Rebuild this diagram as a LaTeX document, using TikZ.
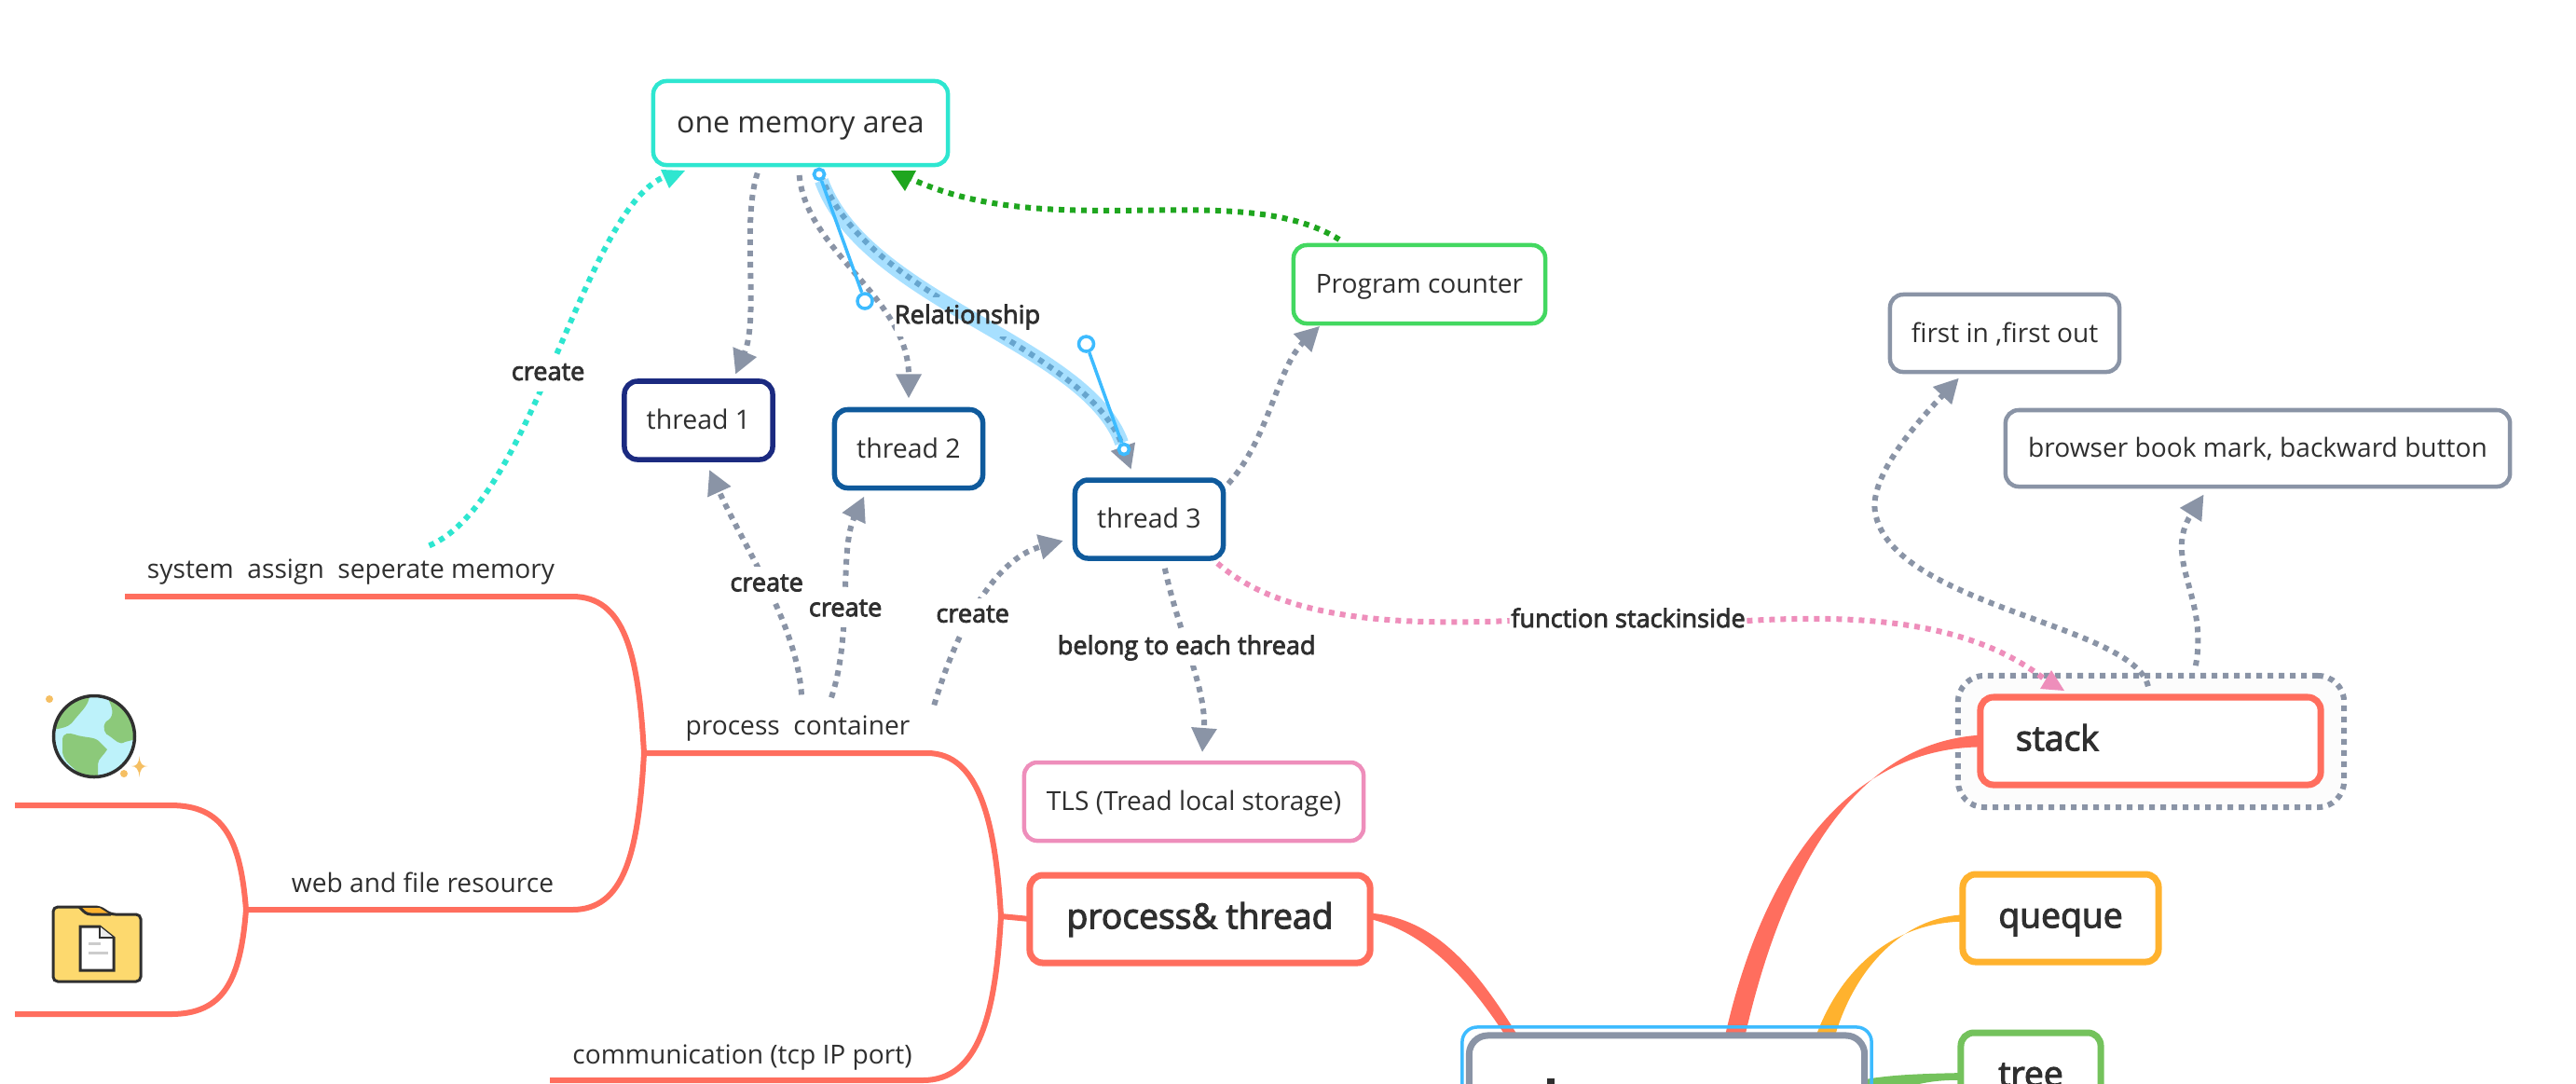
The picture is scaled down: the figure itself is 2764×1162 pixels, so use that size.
\documentclass[tikz,border=0pt]{standalone}
\usepackage{fontspec}
\setmainfont{Open Sans}[BoldFont={Open Sans},BoldFeatures={FakeBold=3}]
\usetikzlibrary{arrows.meta,calc}
\definecolor{ink}{HTML}{2F2F2F}
\definecolor{coral}{HTML}{FF6E5E}
\definecolor{teal}{HTML}{2EE6D0}
\definecolor{navy}{HTML}{1B2A80}
\definecolor{sea}{HTML}{0F5A9C}
\definecolor{lime}{HTML}{43D860}
\definecolor{slate}{HTML}{8A94A6}
\definecolor{pinky}{HTML}{EE8EBB}
\definecolor{amber}{HTML}{FFB22E}
\definecolor{leaf}{HTML}{74C25C}
\definecolor{grass}{HTML}{1FA61F}
\definecolor{sky}{HTML}{3DBBFF}
\definecolor{land}{HTML}{8CC97A}
\definecolor{water}{HTML}{BDF2FA}
\definecolor{spark}{HTML}{F5BF63}
\definecolor{folder}{HTML}{FDD96E}
\tikzset{
  box/.style={draw,fill=white,rounded corners=.14cm,inner sep=0,outer sep=0,line width=.045cm,text=ink,text height=5.4pt,text depth=0pt,font=\fontsize{8}{10}\selectfont},
  threadbox/.style={box,line width=.055cm,minimum width=1.59cm,minimum height=.84cm,font=\fontsize{8.1}{10}\selectfont},
  bigbox/.style={box,line width=.07cm,minimum height=.94cm,text height=5.8pt,font=\fontsize{10.6}{12}\selectfont\bfseries},
  leaftext/.style={inner sep=0,outer sep=0,text=ink,anchor=base,font=\fontsize{8}{10}\selectfont},
  linklabel/.style={fill=white,inner xsep=.01cm,inner ysep=0,minimum height=.38cm,text=ink,text height=5.5pt,text depth=1.5pt,font=\fontsize{7.7}{9}\selectfont\bfseries},
  link/.style={line width=.06cm,dash pattern=on .06cm off .06cm,slate},
  arrowlink/.style={link,-{Triangle[length=.26cm,width=.26cm]}},
  branch/.style={line width=.06cm,coral},
  knob/.style={circle,draw=sky,fill=white,line width=.035cm,inner sep=0,minimum size=.16cm},
  smallknob/.style={knob,minimum size=.11cm},
}
\begin{document}
\begin{tikzpicture}[x=.01cm,y=-.01cm]
  \useasboundingbox (0,0) rectangle (2764,1162);
  \clip (0,0) rectangle (2764,1162);

  \coordinate (processfork) at (1074,983);
  \coordinate (containerfork) at (691,808);
  \coordinate (webfork) at (264,976);
  \coordinate (commend) at (590,1159);
  \coordinate (systemend) at (134,640);
  \coordinate (globeend) at (16,864);
  \coordinate (folderend) at (16,1088);

  \node[box,draw=slate,fill=white!99!black,line width=.06cm,dash pattern=on .06cm off .06cm,rounded corners=.28cm,minimum width=4.14cm,minimum height=1.41cm] (stackring) at (2308,795.5) {};

  \node[box,draw=teal,minimum width=3.16cm,minimum height=.9cm,text height=5.9pt,font=\fontsize{9.1}{11}\selectfont] (memory) at (859,132) {one memory area};
  \node[threadbox,draw=navy] (threadone) at (749.5,451) {thread 1};
  \node[threadbox,draw=sea] (threadtwo) at (975,481.5) {thread 2};
  \node[threadbox,draw=sea] (threadthree) at (1233,557) {thread 3};
  \node[box,draw=lime,minimum width=2.7cm,minimum height=.84cm] (program) at (1523,305) {Program counter};
  \node[box,draw=slate,minimum width=2.46cm,minimum height=.83cm] (firstin) at (2151,357.5) {first in ,first out};
  \node[box,draw=slate,minimum width=5.41cm,minimum height=.82cm] (browser) at (2422.5,481) {browser book mark, backward button};
  \node[box,draw=pinky,minimum width=3.64cm,minimum height=.84cm] (tls) at (1281,860) {TLS (Tread local storage)};
  \node[bigbox,draw=coral,minimum width=3.65cm] (process) at (1287.5,986) {process\& thread};
  \node[bigbox,draw=coral,text width=2.89cm,align=left,inner xsep=.38cm] (stack) at (2307.5,795) {stack};
  \node[bigbox,draw=amber,minimum width=2.1cm] (queque) at (2211,985) {queque};
  \node[bigbox,draw=leaf,minimum width=1.5cm] (tree) at (2179,1155) {tree};

  \node[leaftext] (system) at (376.5,620) {system\ \ assign\ \ seperate memory};
  \node[leaftext] (container) at (856,788) {process\ \ container};
  \node[leaftext] (web) at (453.5,957) {web and file resource};
  \node[leaftext] (comm) at (796.5,1141) {communication (tcp IP port)};

  \node[inner sep=0,minimum width=4.24cm,minimum height=2cm,outer sep=0] (mainbox) at (1788.5,1211) {};

  \draw[branch] (process.west) -- (processfork);
  \draw[branch] (processfork) .. controls (1068,880) and (1050,808) .. (995,808) -- (containerfork);
  \draw[branch] (processfork) .. controls (1068,1090) and (1050,1159) .. (990,1159) -- (commend);
  \draw[branch] (containerfork) .. controls (685,700) and (670,640) .. (614,640) -- (systemend);
  \draw[branch] (containerfork) .. controls (685,915) and (670,976) .. (614,976) -- (webfork);
  \draw[branch] (webfork) .. controls (258,900) and (240,864) .. (183,864) -- (globeend);
  \draw[branch] (webfork) .. controls (258,1052) and (240,1088) .. (183,1088) -- (folderend);

  \fill[coral] (process.2) .. controls (1540,985) and (1585,1040) .. (mainbox.148.6) -- (mainbox.150.7) .. controls (1575,1050) and (1530,1000) .. (process.0) -- cycle;
  \fill[coral] (stack.178.5) .. controls (1990,797) and (1913,933) .. (mainbox.50.8) -- (mainbox.58.4) .. controls (1893,925) and (1986,803) .. (stack.-178.5) -- cycle;
  \fill[amber] (queque.178.4) .. controls (2040,985) and (1990,1040) .. (mainbox.29.7) -- (mainbox.32.2) .. controls (1975,1040) and (2030,990) .. (queque.-178.4) -- cycle;
  \fill[leaf] (tree.177.7) .. controls (2060,1152) and (2030,1153) .. (mainbox.14.3) -- (mainbox.7) .. controls (2040,1165) and (2070,1158) .. (tree.-177.7) -- cycle;

  \node[box,draw=sky,fill=none,line width=.035cm,rounded corners=.16cm,minimum width=4.39cm,minimum height=2.18cm] (selection) at (mainbox) {};
  \node[box,draw=slate,line width=.07cm,rounded corners=.2cm,minimum width=4.24cm,minimum height=2cm] (maintopic) at (mainbox) {};
  \fill[ink] (1660,1157) rectangle (1667.5,1164);

  \draw[arrowlink,shorten <=.09cm,shorten >=.08cm] (memory.-134) .. controls (795,240) and (815,340) .. (threadone.49);
  \draw[arrowlink,shorten <=.11cm,shorten >=.12cm] (memory.-93) .. controls (865,270) and (975,320) .. (threadtwo.north);
  \draw[arrowlink,shorten <=.11cm,shorten >=.12cm] (memory.-68) .. controls (928,323) and (1165.5,369) .. (threadthree.110);
  \draw[arrowlink,shorten <=.08cm,shorten >=.04cm] (threadthree.22) .. controls (1362,470) and (1370,395) .. (program.-158.6);
  \draw[arrowlink,shorten <=.11cm,shorten >=.11cm] (threadthree.-71.6) .. controls (1265,680) and (1295,740) .. node[linklabel,pos=.43] (belong) {belong to each thread} (tls.79);
  \draw[arrowlink,shorten >=.12cm] ($(container.north)+(4,-22)$) .. controls (855,670) and (800,590) .. node[linklabel,pos=.5] (createone) {create} (threadone.-81);
  \draw[arrowlink,shorten >=.1cm] ($(container.north)+(36,-19)$) .. controls (915,680) and (900,590) .. node[linklabel,pos=.42] (createtwo) {create} (threadtwo.-136);
  \draw[arrowlink,shorten >=.13cm] ($(container.north east)+(26,-11)$) .. controls (1025,680) and (1065,600) .. node[linklabel,pos=.43] (createthree) {create} (threadthree.-166);
  \draw[arrowlink,shorten <=.12cm,shorten >=.09cm] (stack.90) .. controls (2290,670) and (2030,650) .. (2012,550) .. controls (2005,510) and (2060,450) .. (firstin.-136.7);
  \draw[arrowlink,shorten <=.11cm,shorten >=.1cm] (stackring.57.4) .. controls (2370,640) and (2320,600) .. (browser.-142.5);

  \draw[link,teal] ($(system.north)+(84,-14)$) .. controls (570,540) and (626,228) .. node[linklabel,pos=.47] (createmem) {create} ($(memory.south)+(-147,13)$);
  \fill[teal] (709,182) -- (735,183) -- (718,202) -- cycle;
  \draw[link,grass] ($(program.north)+(-86,-6)$) .. controls (1330,190) and (1130,262) .. ($(memory.south)+(119,15)$);
  \fill[grass] (956,183) -- (983,183) -- (971,205) -- cycle;
  \node[linklabel] (stackinside) at (1747,666) {function stackinside};
  \draw[link,pinky,shorten <=.08cm] (threadthree.-32.9) .. controls (1370,660) and (1480,672) .. (stackinside.west);
  \draw[link,pinky] (stackinside.east) .. controls (2010,658) and (2120,670) .. ($(stack.north)+(-112,-18)$);
  \fill[pinky] (2201,719) -- (2189,739) -- (2215,741) -- cycle;

  \node[fill=white,inner sep=0,minimum width=1.56cm,minimum height=.42cm] (relationgap) at (1038,340) {};
  \node[smallknob] (knobstart) at (879,187) {};
  \node[smallknob] (knobend) at (1206,482) {};
  \node[knob] (knobone) at (928,323) {};
  \node[knob] (knobtwo) at (1165.5,369) {};
  \draw[sky,opacity=.45,line width=.15cm] (knobstart) .. controls (knobone) and (knobtwo) .. (knobend);
  \node[linklabel,fill=none] (relation) at (1038,340) {Relationship};
  \draw[sky,line width=.035cm] (knobstart) -- (knobone);
  \draw[sky,line width=.035cm] (knobend) -- (knobtwo);
  \node[smallknob] at (knobstart) {};
  \node[smallknob] at (knobend) {};

  \begin{scope}
    \clip (101,790) circle (43.5);
    \fill[water] (101,790) circle (44);
    \fill[land] (50,782) -- (62,782) .. controls (72,780) and (76,778) .. (80,772) .. controls (88,762) and (96,756) .. (96,745) -- (50,740) -- cycle;
    \fill[land] (117,745) -- (117,752) .. controls (122,762) and (122,770) .. (114,774) .. controls (109,780) and (112,788) .. (118,790) .. controls (124,794) and (128,800) .. (134,796) -- (150,792) -- (150,745) -- cycle;
    \fill[land] (67,793) .. controls (68,786) and (74,786) .. (80,788) .. controls (92,792) and (100,790) .. (106,795) -- (115,804) .. controls (112,810) and (105,814) .. (105,820) -- (105,836) -- (88,836) .. controls (82,822) and (70,822) .. (67,807) -- cycle;
  \end{scope}
  \draw[ink,line width=.035cm] (101,790) circle (43.5);
  \fill[spark] (53,750) circle (4);
  \fill[spark] (133,830) circle (4);
  \fill[spark] (149.6,811) .. controls (150,820) and (153,822) .. (158.5,822) .. controls (153,822) and (150,825) .. (149.6,834) .. controls (149,825) and (146,822) .. (141,822) .. controls (146,822) and (149,820) .. (149.6,811) -- cycle;

  \draw[ink,line width=.03cm,fill=folder,rounded corners=.05cm] (57,1053) -- (57,973) -- (107,973) -- (119,981) -- (151,981) -- (151,1053) -- cycle;
  \fill[amber] (87,974) -- (107,974) -- (118,981) -- (96,981) -- cycle;
  \draw[ink,line width=.03cm] (85,973) .. controls (90,978) and (92,981) .. (98,981) -- (119,981);
  \draw[ink,line width=.03cm,fill=white] (86,994) -- (107,994) -- (122,1006) -- (122,1041) -- (86,1041) -- cycle;
  \draw[ink,line width=.02cm,fill=black!8] (107,994) -- (107,1006) -- (122,1006);
  \draw[black!20,line width=.03cm] (95,1012) -- (108,1012);
  \draw[black!20,line width=.03cm] (95,1022) -- (116,1022);
\end{tikzpicture}
\end{document}
